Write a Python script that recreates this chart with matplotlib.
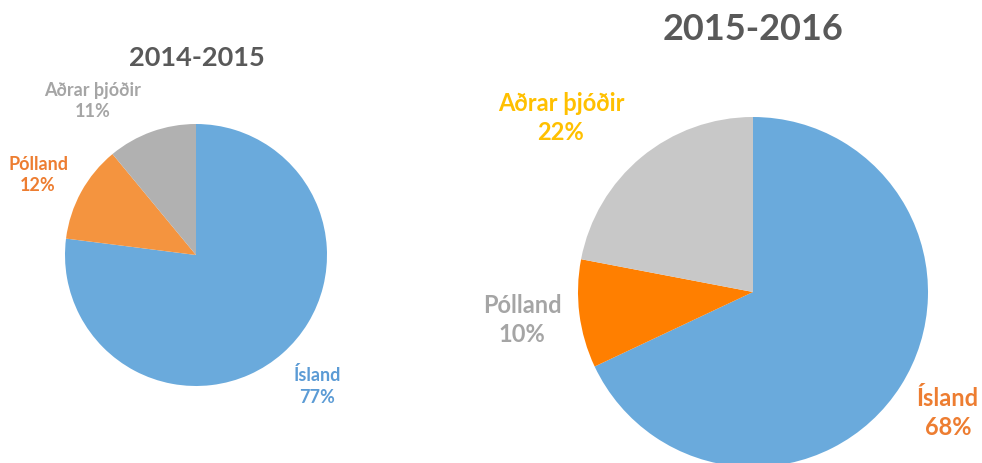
import matplotlib.pyplot as plt

plt.rcParams['font.family'] = ['Lato', 'DejaVu Sans']

# data
labels = ["Ísland", "Pólland", "Aðrar þjóðir"]
share_1415 = [77, 12, 11]
share_1516 = [68, 10, 22]

colors_1415 = ["#6AAADC", "#F4943F", "#B1B1B1"]
colors_1516 = ["#6AAADC", "#FF7F00", "#C8C8C8"]
label_colors_1415 = ["#5B9BD5", "#ED7D31", "#A5A5A5"]
label_colors_1516 = ["#ED7D31", "#A5A5A5", "#FFC000"]

W, H = 982, 463
fig = plt.figure(figsize=(W / 100, H / 100), dpi=100)


def px_axes(cx, cy, r):
    return fig.add_axes([(cx - r) / W, (H - cy - r) / H, 2 * r / W, 2 * r / H])


def ftext(x, y, s, **kw):
    fig.text(x / W, 1 - y / H, s, ha="center", va="center", fontweight="bold", **kw)


def draw(ax, vals, cols):
    ax.pie(vals, colors=cols, startangle=90, counterclock=False,
           wedgeprops=dict(linewidth=0))
    ax.set_aspect("equal")
    ax.set_xlim(-1, 1)
    ax.set_ylim(-1, 1)
    ax.axis("off")


ax1 = px_axes(196, 255, 131)
draw(ax1, share_1415, colors_1415)
ax2 = px_axes(753, 292, 175)
draw(ax2, share_1516, colors_1516)

ftext(197, 58, "2014-2015", color="#595959", fontsize=19.5)
ftext(753, 30, "2015-2016", color="#595959", fontsize=26)

# left labels
pos1 = [(317, 386), (38, 175), (93, 101)]
for (x, y), lab, v, c in zip(pos1, labels, share_1415, label_colors_1415):
    ftext(x, y, f"{lab}\n{v}%", color=c, fontsize=13, linespacing=1.35)

# right labels
pos2 = [(948, 413), (522, 320), (561, 118)]
for (x, y), lab, v, c in zip(pos2, labels, share_1516, label_colors_1516):
    ftext(x, y, f"{lab}\n{v}%", color=c, fontsize=17, linespacing=1.3)

fig.savefig("out.png", dpi=100)
